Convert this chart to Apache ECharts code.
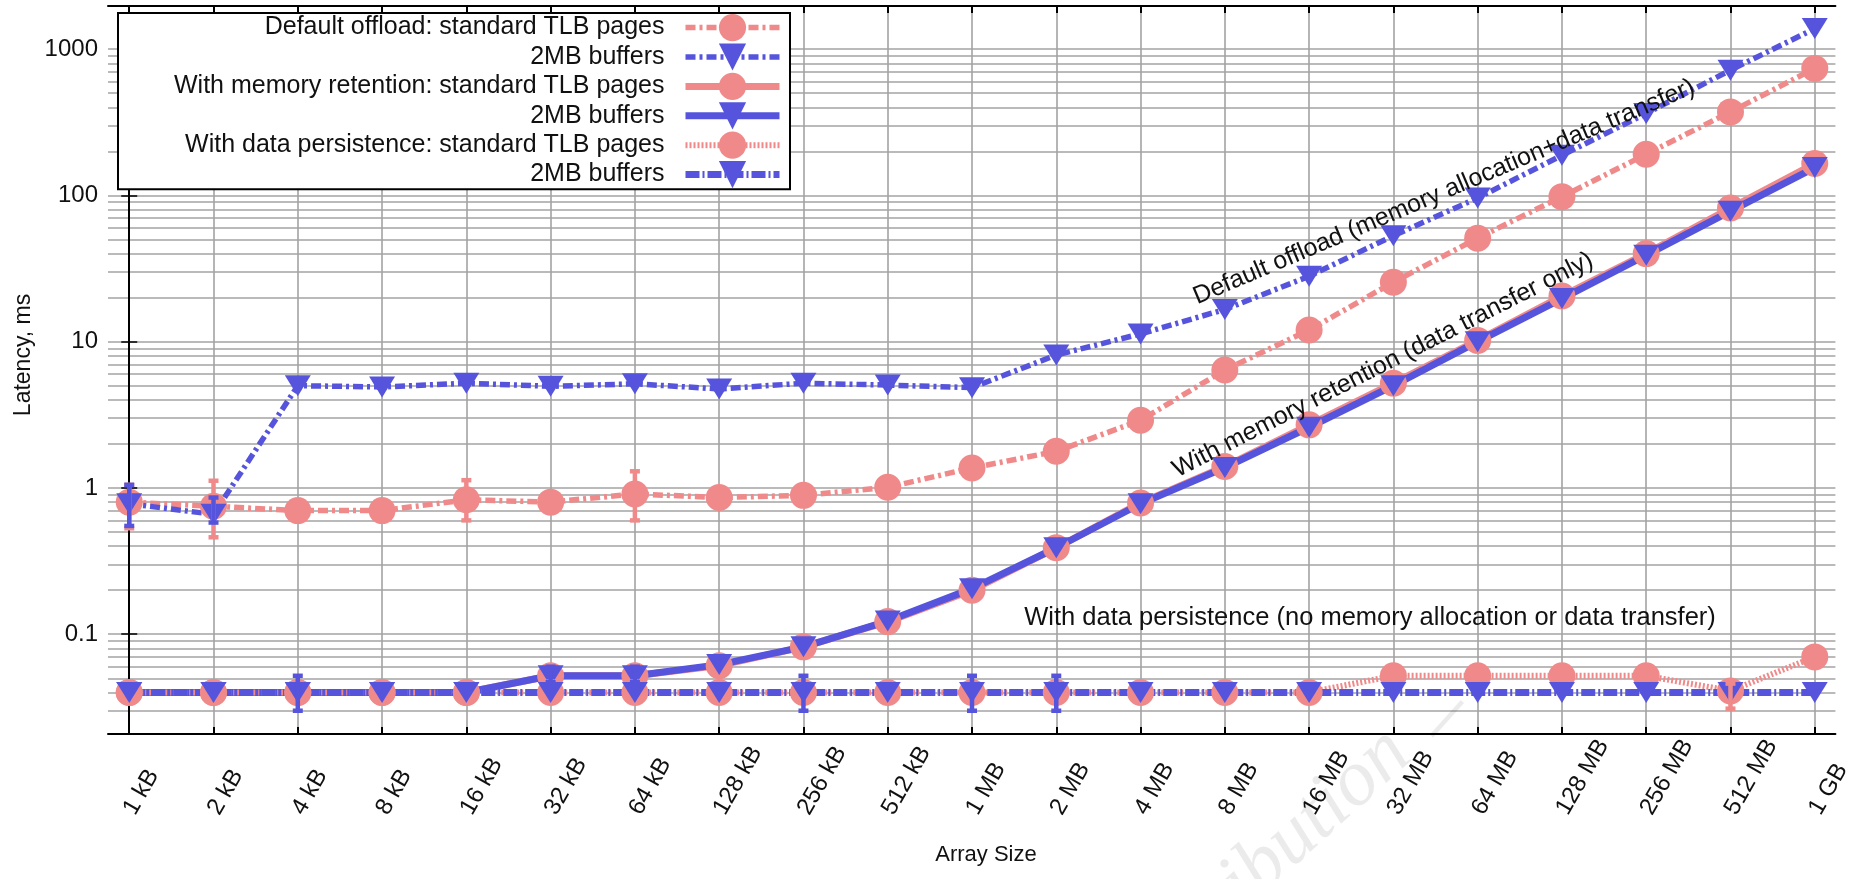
<!DOCTYPE html>
<html>
<head>
<meta charset="utf-8">
<script src="https://cdn.jsdelivr.net/npm/echarts@6/dist/echarts.min.js"></script>
<style>
  html, body { margin: 0; padding: 0; background: #fff; }
  #main { width: 1854px; height: 879px; }
</style>
</head>
<body>
<div id="main"></div>
<script>
// array sizes (x categories)
var sizes = ['1 kB', '2 kB', '4 kB', '8 kB', '16 kB', '32 kB', '64 kB', '128 kB', '256 kB', '512 kB',
  '1 MB', '2 MB', '4 MB', '8 MB', '16 MB', '32 MB', '64 MB', '128 MB', '256 MB', '512 MB', '1 GB'];

// latency, ms
var defaultTlb = [0.80, 0.75, 0.70, 0.70, 0.83, 0.80, 0.91, 0.86, 0.89, 1.01, 1.37, 1.78, 2.9, 6.4, 12, 25.5, 51, 98, 191, 372, 738];
var default2mb = [0.78, 0.66, 5.0, 4.9, 5.2, 4.95, 5.15, 4.75, 5.2, 5.05, 4.85, 8.1, 11.3, 16.6, 28, 53, 96, 188, 363, 718, 1380];
var retentionTlb = [0.040, 0.040, 0.040, 0.040, 0.040, 0.052, 0.052, 0.061, 0.082, 0.122, 0.20, 0.39, 0.79, 1.40, 2.7, 5.2, 10.2, 20.5, 40, 82, 165];
var retention2mb = [0.040, 0.040, 0.040, 0.040, 0.040, 0.052, 0.052, 0.062, 0.082, 0.123, 0.205, 0.39, 0.78, 1.38, 2.6, 5.0, 10, 19.7, 39, 78, 155];
var persistTlb = [0.040, 0.040, 0.040, 0.040, 0.040, 0.040, 0.040, 0.040, 0.040, 0.040, 0.040, 0.040, 0.040, 0.040, 0.040, 0.052, 0.052, 0.052, 0.052, 0.041, 0.070];
var persist2mb = [0.040, 0.040, 0.040, 0.040, 0.040, 0.040, 0.040, 0.040, 0.040, 0.040, 0.040, 0.040, 0.040, 0.040, 0.040, 0.040, 0.040, 0.040, 0.040, 0.040, 0.040];

// error bars: index, low, high
var errDefTlbIdx = [0, 1, 4, 6];
var errDefTlbLow = [0.53, 0.46, 0.60, 0.60];
var errDefTlbHigh = [1.05, 1.12, 1.13, 1.30];
var errDef2mbIdx = [0, 1];
var errDef2mbLow = [0.55, 0.58];
var errDef2mbHigh = [1.05, 0.86];
var errRet2mbIdx = [5, 6];
var errRet2mbLow = [0.047, 0.047];
var errRet2mbHigh = [0.060, 0.060];
var errPer2mbIdx = [2, 8, 10, 11];
var errPer2mbLow = [0.030, 0.030, 0.030, 0.030];
var errPer2mbHigh = [0.052, 0.052, 0.052, 0.052];
var errPerTlbIdx = [19];
var errPerTlbLow = [0.031];
var errPerTlbHigh = [0.046];

// log grid
var decades = [0.01, 0.1, 1, 10, 100, 1000];
var steps = [1, 2, 3, 4, 5, 6, 7, 8, 9];

var names = ['Default offload: standard TLB pages', '2MB buffers',
  'With memory retention: standard TLB pages', '2MB buffers ',
  'With data persistence: standard TLB pages', '2MB buffers  '];

var PINK = '#f08a8a';
var BLUE = '#5654dc';
var FONT = 'Liberation Sans';
var YMIN = 0.0208, YMAX = 1970;
var XMIN = -0.252, XMAX = 20.245;
var TRI = 'path://M0,0L10,0L5,8Z';

function pairs(arr) {
  return arr.map(function (v, i) { return [i, v]; });
}
function errData(idx, lo, hi) {
  return idx.map(function (x, i) { return [x, lo[i], hi[i]]; });
}

var idxs = sizes.map(function (s, i) { return i; });

var hLines = [];
decades.forEach(function (d) {
  steps.forEach(function (m) {
    var v = +(d * m).toPrecision(3);
    if (v > YMIN && v < YMAX) hLines.push({ yAxis: v });
  });
});
var vLines = idxs.map(function (i) { return { xAxis: i }; });

function renderErr(params, api) {
  var x = api.value(0);
  var lo = api.coord([x, api.value(1)]);
  var hi = api.coord([x, api.value(2)]);
  var st = { stroke: api.visual('color'), lineWidth: 4.5 };
  return {
    type: 'group',
    children: [
      { type: 'line', shape: { x1: lo[0], y1: lo[1], x2: hi[0], y2: hi[1] }, style: st },
      { type: 'line', shape: { x1: lo[0] - 5, y1: lo[1], x2: lo[0] + 5, y2: lo[1] }, style: st },
      { type: 'line', shape: { x1: hi[0] - 5, y1: hi[1], x2: hi[0] + 5, y2: hi[1] }, style: st }
    ]
  };
}

function lineSeries(name, data, color, symbol, size, width, type) {
  return {
    name: name,
    type: 'line',
    data: pairs(data),
    symbol: symbol,
    symbolSize: size,
    z: 10,
    itemStyle: { color: color },
    lineStyle: { color: color, width: width, type: type },
    emphasis: { disabled: true }
  };
}

function errSeries(data, color) {
  return {
    type: 'custom',
    renderItem: renderErr,
    data: data,
    z: 12,
    itemStyle: { color: color },
    encode: { x: 0, y: [1, 2] },
    silent: true
  };
}

var xAxisBase = {
  type: 'value',
  min: XMIN,
  max: XMAX,
  splitLine: { show: false },
  axisLine: { show: true, lineStyle: { color: '#000', width: 2 } },
  axisTick: { show: true, inside: true, length: 7, customValues: idxs, lineStyle: { color: '#000', width: 2 } },
  z: 3
};
var yAxisBase = {
  type: 'log',
  logBase: 10,
  min: YMIN,
  max: YMAX,
  splitLine: { show: false },
  axisLine: { show: true, lineStyle: { color: '#000', width: 2 } },
  axisTick: { show: true, inside: true, length: 8, lineStyle: { color: '#000', width: 1.5 } },
  z: 3
};

var chart = echarts.init(document.getElementById('main'));

var option = {
  animation: false,
  backgroundColor: '#fff',
  grid: { left: 108, right: 16, top: 6, bottom: 145 },
  xAxis: [
    Object.assign({}, xAxisBase, {
      position: 'bottom',
      axisLabel: {
        customValues: idxs,
        rotate: 60,
        align: 'left',
        verticalAlign: 'middle',
        margin: 79,
        fontSize: 24,
        fontFamily: FONT,
        color: '#111',
        formatter: function (v) { return sizes[Math.round(v)]; }
      }
    }),
    Object.assign({}, xAxisBase, { position: 'top', axisLabel: { show: false } })
  ],
  yAxis: [
    Object.assign({}, yAxisBase, {
      position: 'left',
      axisLabel: {
        margin: 10,
        fontSize: 24,
        fontFamily: FONT,
        color: '#111',
        formatter: function (v) {
          var l = Math.log10(v);
          if (Math.abs(l - Math.round(l)) > 1e-6) return '';
          return v >= 1 ? String(Math.round(v)) : String(+v.toPrecision(1));
        }
      }
    }),
    Object.assign({}, yAxisBase, { position: 'right', axisLabel: { show: false } })
  ],
  legend: {
    data: [
      { name: names[0], lineStyle: { width: 5.5 } },
      { name: names[1], lineStyle: { width: 5.5 } },
      { name: names[2], lineStyle: { width: 7 } },
      { name: names[3], lineStyle: { width: 7 } },
      { name: names[4], lineStyle: { width: 6 } },
      { name: names[5], lineStyle: { width: 7 } }
    ],
    orient: 'vertical',
    align: 'right',
    right: 1064,
    top: 13,
    itemWidth: 94,
    itemHeight: 34,
    itemGap: 2.2,
    padding: [1, 7, 1, 56],
    borderColor: '#000',
    borderWidth: 2,
    backgroundColor: '#fff',
    selectedMode: false,
    z: 20,
    formatter: function (n) { return n.trim(); },
    textStyle: { fontSize: 25, fontFamily: FONT, color: '#111', padding: [0, 16, 0, 0] }
  },
  graphic: [
    {
      type: 'text', x: 24, y: 355, rotation: Math.PI / 2,
      style: { text: 'Latency, ms', font: '23px "Liberation Sans"', fill: '#111', align: 'center', verticalAlign: 'middle' }
    },
    {
      type: 'text', x: 986, y: 855,
      style: { text: 'Array Size', font: '22px "Liberation Sans"', fill: '#111', align: 'center', verticalAlign: 'middle' }
    },
    {
      type: 'text', x: 1444, y: 192, rotation: 23 * Math.PI / 180, z: 50,
      style: { text: 'Default offload (memory allocation+data transfer)', font: '25px "Liberation Sans"', fill: '#111', align: 'center', verticalAlign: 'middle' }
    },
    {
      type: 'text', x: 1383, y: 365, rotation: 27 * Math.PI / 180, z: 50,
      style: { text: 'With memory retention (data transfer only)', font: '25px "Liberation Sans"', fill: '#111', align: 'center', verticalAlign: 'middle' }
    },
    {
      type: 'text', x: 1370, y: 618, z: 50,
      style: { text: 'With data persistence (no memory allocation or data transfer)', font: '25.5px "Liberation Sans"', fill: '#111', align: 'center', verticalAlign: 'middle' }
    },
    {
      type: 'text', x: 1373, y: 713, rotation: 42 * Math.PI / 180, z: 50,
      style: { text: 'Distribution', font: 'italic 80px "Liberation Serif"', fill: 'rgba(0,0,0,0.08)', align: 'right', verticalAlign: 'top' }
    },
    {
      type: 'text', x: 1445, y: 717, rotation: 48 * Math.PI / 180, z: 50,
      style: { text: '\u2013', font: '90px "Liberation Serif"', fill: 'rgba(0,0,0,0.08)', align: 'center', verticalAlign: 'middle' }
    }
  ],
  series: [
    {
      type: 'line',
      data: [],
      silent: true,
      z: 1,
      markLine: {
        silent: true,
        z: 1,
        symbol: 'none',
        label: { show: false },
        lineStyle: { color: '#a3a3a3', width: 1.6, type: 'solid' },
        emphasis: { disabled: true },
        data: hLines.concat(vLines)
      }
    },
    lineSeries(names[0], defaultTlb, PINK, 'circle', 27, 5.5, [10, 4, 3, 4]),
    lineSeries(names[1], default2mb, BLUE, TRI, [26, 21], 5.5, [10, 4, 3, 4]),
    lineSeries(names[2], retentionTlb, PINK, 'circle', 27, 7, 'solid'),
    lineSeries(names[3], retention2mb, BLUE, TRI, [26, 21], 7, 'solid'),
    lineSeries(names[4], persistTlb, PINK, 'circle', 27, 6, [2, 2]),
    lineSeries(names[5], persist2mb, BLUE, TRI, [26, 21], 7, [14, 3, 2, 3]),
    errSeries(errData(errDefTlbIdx, errDefTlbLow, errDefTlbHigh), PINK),
    errSeries(errData(errDef2mbIdx, errDef2mbLow, errDef2mbHigh), BLUE),
    errSeries(errData(errRet2mbIdx, errRet2mbLow, errRet2mbHigh), BLUE),
    errSeries(errData(errPer2mbIdx, errPer2mbLow, errPer2mbHigh), BLUE),
    errSeries(errData(errPerTlbIdx, errPerTlbLow, errPerTlbHigh), PINK)
  ]
};

chart.setOption(option);
</script>
</body>
</html>
